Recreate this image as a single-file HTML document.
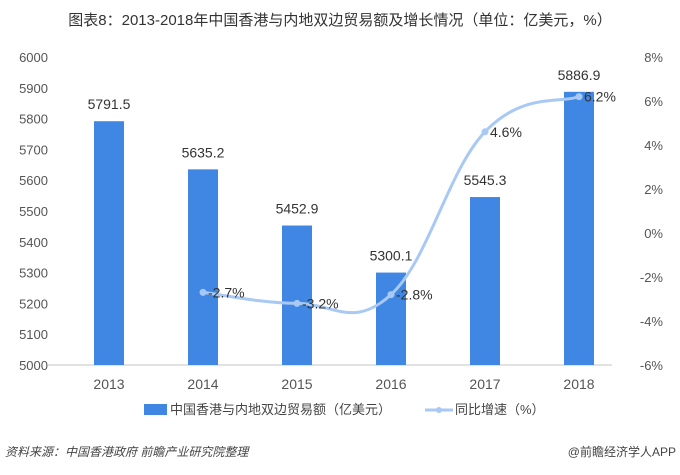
<!DOCTYPE html>
<html><head><meta charset="utf-8"><style>
body{margin:0;background:#fff;font-family:"Liberation Sans","Noto Sans CJK SC",sans-serif}
svg text{font-family:"Liberation Sans","Noto Sans CJK SC",sans-serif}
</style></head><body>
<svg id="c" width="680" height="470" viewBox="0 0 680 470">
<text x="340" y="25" text-anchor="middle" font-size="15" fill="#333">图表8：2013-2018年中国香港与内地双边贸易额及增长情况（单位：亿美元，%）</text>
<g id="axes"></g><g id="bars"></g><g id="line"></g>
<g>
<rect x="144" y="404" width="23" height="11" fill="#3f87e3"/>
<text x="170" y="414" font-size="13" fill="#444">中国香港与内地双边贸易额（亿美元）</text>
<line x1="425" y1="410" x2="453" y2="410" stroke="#a9c9f5" stroke-width="3"/>
<circle cx="439" cy="410" r="3" fill="#a9c9f5"/>
<text x="455" y="414" font-size="13" fill="#444">同比增速（%）</text>
</g>
<text x="5" y="456" font-size="12" font-style="italic" fill="#444">资料来源：中国香港政府 前瞻产业研究院整理</text>
<text x="676" y="456" text-anchor="end" font-size="12" fill="#444">@前瞻经济学人APP</text>
</svg>
<script>
const categories=["2013","2014","2015","2016","2017","2018"];
const tradeValues=[5791.5,5635.2,5452.9,5300.1,5545.3,5886.9];
const growthValues=[null,-2.7,-3.2,-2.8,4.6,6.2];
const leftTicks=[5000,5100,5200,5300,5400,5500,5600,5700,5800,5900,6000];
const rightTicks=[-6,-4,-2,0,2,4,6,8];
const NS="http://www.w3.org/2000/svg";
const yL=v=>365-(v-5000)*308/1000;
const yR=v=>365-(v+6)*22;
const xC=i=>62+94*(i+0.5);
function mk(tag,at,p){const e=document.createElementNS(NS,tag);for(const k in at)e.setAttribute(k,at[k]);(p||document.getElementById('c')).appendChild(e);return e;}
const ax=document.getElementById('axes');
let bl=mk('line',{x1:48,x2:612,y1:365,y2:365,stroke:'#d9d9d9','stroke-width':1.5},ax);

leftTicks.forEach(t=>{const e=mk('text',{x:48,y:yL(t)+5,'text-anchor':'end','font-size':13,fill:'#555'},ax);e.textContent=t;
});
rightTicks.forEach(t=>{const e=mk('text',{x:663,y:yR(t)+5,'text-anchor':'end','font-size':13,fill:'#555'},ax);e.textContent=t+'%';
});
categories.forEach((c,i)=>{const e=mk('text',{x:xC(i),y:389,'text-anchor':'middle','font-size':14,fill:'#555','font-family':'Liberation Serif'},ax);e.textContent=c;
});
const bg=document.getElementById('bars');
tradeValues.forEach((v,i)=>{const r=mk('rect',{x:xC(i)-15,y:yL(v),width:30,height:365-yL(v),fill:'#3f87e3'},bg);

const t=mk('text',{x:xC(i),y:yL(v)-12,'text-anchor':'middle','font-size':14,fill:'#333'},bg);t.textContent=v.toFixed(1);
});
const lg=document.getElementById('line');
const pts=[];growthValues.forEach((v,i)=>{if(v!==null)pts.push([xC(i),yR(v),v]);});
let d='M'+pts[0][0]+','+pts[0][1];
for(let i=0;i<pts.length-1;i++){const p0=pts[Math.max(0,i-1)],p1=pts[i],p2=pts[i+1],p3=pts[Math.min(pts.length-1,i+2)];
const k=0.2;d+=' C'+(p1[0]+(p2[0]-p0[0])*k)+','+(p1[1]+(p2[1]-p0[1])*k)+' '+(p2[0]-(p3[0]-p1[0])*k)+','+(p2[1]-(p3[1]-p1[1])*k)+' '+p2[0]+','+p2[1];}
const pa=mk('path',{d:d,fill:'none',stroke:'#a9c9f5','stroke-width':3},lg);

pts.forEach(p=>{const c=mk('circle',{cx:p[0],cy:p[1],r:3.5,fill:'#a9c9f5'},lg);

const t=mk('text',{x:p[0]+5,y:p[1]+5,'font-size':14,fill:'#333'},lg);t.textContent=p[2].toFixed(1)+'%';
});
</script>
</body></html>
